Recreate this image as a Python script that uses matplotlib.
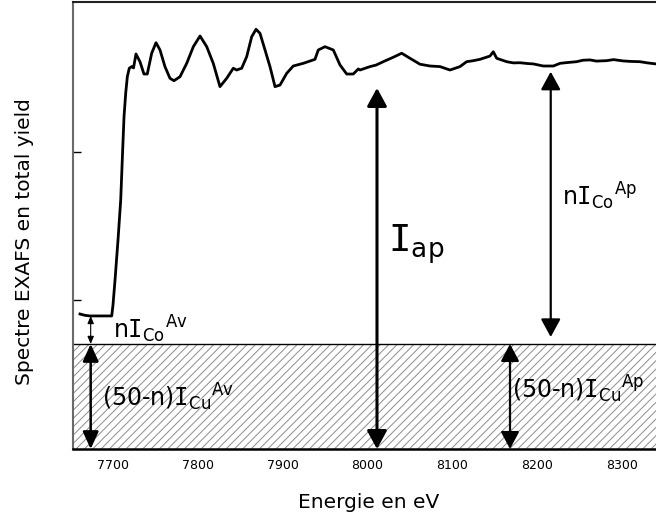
import matplotlib
matplotlib.use("Agg")
import matplotlib.pyplot as plt
from matplotlib.patches import FancyArrowPatch

plt.rcParams['font.family'] = ['DejaVu Sans']
plt.rcParams['mathtext.default'] = 'regular'
plt.rcParams['hatch.linewidth'] = 0.7

# ---- data ----
energy = [7661.1, 7667.0, 7672.9, 7684.7, 7698.5, 7700.0, 7702.4, 7705.9, 7709.1,
          7711.4, 7713.0, 7715.0, 7716.9, 7719.2, 7722.0, 7724.2, 7727.1, 7731.8,
          7736.5, 7740.4, 7745.6, 7750.7, 7755.4, 7761.3, 7767.2, 7771.9, 7779.0,
          7786.9, 7794.7, 7802.6, 7810.5, 7818.2, 7826.1, 7834.0, 7841.8, 7845.8,
          7851.7, 7857.6, 7863.5, 7868.6, 7873.3, 7879.2, 7885.1, 7891.0, 7896.9,
          7904.8, 7912.5, 7924.3, 7938.1, 7942.0, 7949.9, 7959.7, 7967.6, 7975.5,
          7983.2, 7989.2, 7991.2, 8003.0, 8010.0, 8018.6, 8030.4, 8040.3, 8050.1,
          8061.9, 8073.7, 8085.5, 8097.3, 8109.0, 8116.9, 8125.0, 8132.6, 8144.4,
          8148.3, 8152.3, 8164.1, 8172.0, 8179.8, 8188.0, 8195.5, 8207.3, 8219.1,
          8227.0, 8235.0, 8246.6, 8254.0, 8262.3, 8270.0, 8282.0, 8290.0, 8301.5,
          8310.0, 8321.2, 8330.0, 8340.1]
intensity = [0.909, 0.900, 0.896, 0.896, 0.896, 0.970, 1.138, 1.407, 1.677,
             2.013, 2.238, 2.397, 2.507, 2.564, 2.575, 2.566, 2.660, 2.608,
             2.525, 2.525, 2.665, 2.736, 2.687, 2.574, 2.496, 2.480, 2.507,
             2.597, 2.709, 2.781, 2.709, 2.597, 2.440, 2.496, 2.564, 2.552,
             2.564, 2.642, 2.776, 2.826, 2.799, 2.687, 2.574, 2.440, 2.451,
             2.530, 2.579, 2.597, 2.624, 2.687, 2.709, 2.687, 2.586, 2.525,
             2.525, 2.559, 2.552, 2.575, 2.585, 2.608, 2.638, 2.665, 2.631,
             2.591, 2.579, 2.575, 2.552, 2.575, 2.608, 2.615, 2.624, 2.646,
             2.675, 2.631, 2.608, 2.600, 2.601, 2.596, 2.593, 2.579, 2.579,
             2.597, 2.602, 2.608, 2.618, 2.620, 2.612, 2.615, 2.622, 2.613,
             2.610, 2.608, 2.600, 2.593]

xticks = [7700, 7800, 7900, 8000, 8100, 8200, 8300]
yticks = [1, 2]
cu_level = 0.707          # top of the hatched Cu background
co_av_level = 0.896       # pre-edge level

# arrows: x, start level, end level
arrow_x = [7673.7, 7673.7, 8011.2, 8216.0, 8168.0]
arrow_y0 = [co_av_level, cu_level, 2.431, 2.541, cu_level]
arrow_y1 = [cu_level, 0.0, 0.0, 0.754, 0.0]

# ---- figure ----
fig = plt.figure(figsize=(6.56, 5.24), dpi=100)
ax = fig.add_axes([72.7 / 656, 1 - 449 / 524, 1 - 72.7 / 656, 447 / 524])
ax.set_xlim(7652.5, 8340.1)
ax.set_ylim(0, 3.01)

ax.axhspan(0, cu_level, facecolor='white', edgecolor='#8c8c8c',
           hatch='////', linewidth=0, zorder=1)
ax.axhline(cu_level, color='black', lw=1.0, zorder=2)

ax.plot(energy, intensity, color='black', lw=2.0, zorder=3,
        solid_joinstyle='round')

styles = [
    dict(lw=0.8, hl=4.5, hw=1.9),
    dict(lw=1.8, hl=10.5, hw=4.8),
    dict(lw=2.2, hl=11.0, hw=6.0),
    dict(lw=1.6, hl=11.0, hw=6.0),
    dict(lw=1.6, hl=10.5, hw=5.6),
]
for x, y0, y1, st in zip(arrow_x, arrow_y0, arrow_y1, styles):
    ar = FancyArrowPatch((x, y0), (x, y1),
                         arrowstyle=f'<|-|>,head_length={st["hl"]},head_width={st["hw"]}',
                         mutation_scale=1, lw=st['lw'], color='black',
                         shrinkA=0, shrinkB=0, zorder=4)
    ax.add_patch(ar)

fs = 17
ax.text(7700.0, 0.747, r'n$\mathtt{I}_{Co}$$^{Av}$', fontsize=fs, va='baseline', ha='left', zorder=5)
ax.text(7686.7, 0.290, r'(50-n)$\mathtt{I}_{Cu}$$^{Av}$', fontsize=fs, va='baseline', ha='left', zorder=5)
ax.text(8024.2, 1.327, r'$\mathtt{I}_{ap}$', fontsize=27, va='baseline', ha='left', zorder=5)
ax.text(8228.9, 1.643, r'n$\mathtt{I}_{Co}$$^{Ap}$', fontsize=fs, va='baseline', ha='left', zorder=5)
ax.text(8170.0, 0.343, r'(50-n)$\mathtt{I}_{Cu}$$^{Ap}$', fontsize=fs, va='baseline', ha='left',
        zorder=5, clip_on=False)

ax.set_xticks(xticks)
ax.set_xticklabels([str(t) for t in xticks])
ax.set_yticks(yticks)
ax.set_yticklabels([])
ax.tick_params(axis='x', length=0, pad=7, labelsize=9)
ax.tick_params(axis='y', direction='in', length=5.8, width=1.0, color='black')

ax.spines['right'].set_visible(False)
ax.spines['left'].set_color('#6a6a6a')
ax.spines['left'].set_linewidth(1.5)
ax.spines['top'].set_color('#222222')
ax.spines['top'].set_linewidth(1.5)
ax.spines['bottom'].set_color('black')
ax.spines['bottom'].set_linewidth(1.8)
for s in ax.spines.values():
    s.set_zorder(6)

ax.set_xlabel('Energie en eV', fontsize=14.5)
ax.xaxis.set_label_coords((369 - 72.7) / 583.3, (449 - 503) / 447)
ax.xaxis.label.set_va('center')
ax.set_ylabel('Spectre EXAFS en total yield', fontsize=14.5)
ax.yaxis.set_label_coords((25 - 72.7) / 583.3, (449 - 242) / 447)
ax.yaxis.label.set_va('center')

fig.savefig('out.png', dpi=100)
